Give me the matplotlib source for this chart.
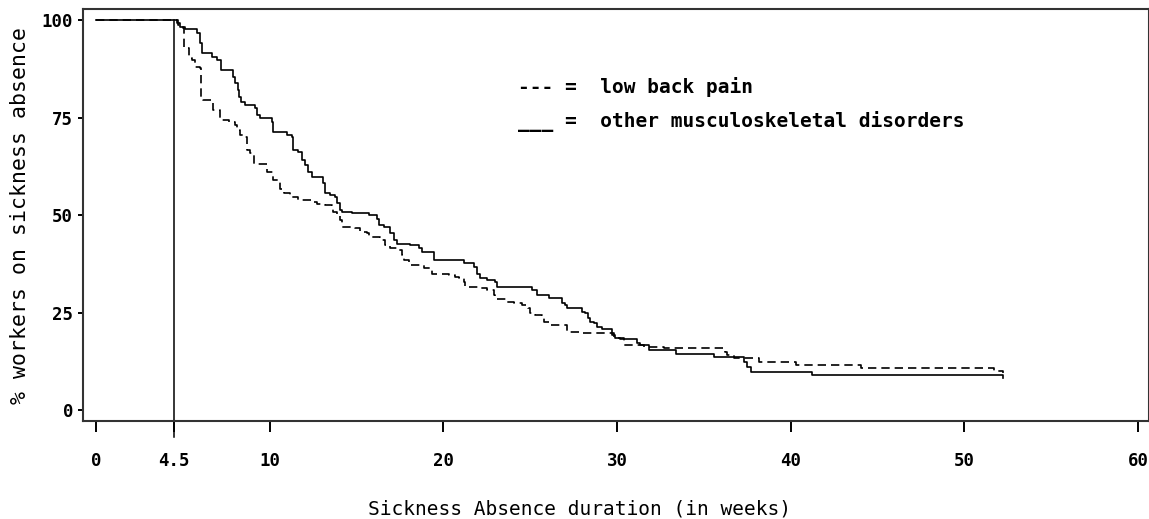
"""Kaplan-Meier style curves: sickness absence duration, low back pain vs other MSD.

Step values read off the published figure.
Output: out.png
"""

import matplotlib.pyplot as plt

# low back pain (dashed): week of step, % still on sickness absence
LBP_WEEKS = [0, 4.75, 5.03, 5.09, 5.38, 5.51, 5.71, 5.99, 6.03, 6.19, 6.71, 7.15,
             7.63, 8.01, 8.11, 8.30, 8.59, 8.69, 8.88, 9.07, 9.84, 10.22, 10.57,
             10.80, 11.18, 11.62, 12.40, 12.72, 13.20, 13.58, 13.64, 13.87, 14.06,
             14.16, 14.93, 15.22, 15.60, 15.70, 16.37, 16.62, 16.95, 17.33, 17.62,
             17.71, 18.00, 18.10, 18.86, 19.35, 20.31, 20.69, 20.88, 21.17, 21.27,
             22.13, 22.52, 22.90, 23.00, 23.67, 24.05, 24.54, 24.88, 25.01, 25.30,
             25.69, 25.78, 26.12, 27.13, 27.90, 29.82, 30.39, 31.55, 32.70, 36.20,
             36.35, 36.73, 38.20, 40.29, 44.03, 51.72, 52.2]
LBP_PCT = [100, 98.7, 97.9, 92.7, 90.2, 89.7, 88.0, 87.6, 80.3, 79.5, 76.9, 74.4,
           73.9, 73.1, 71.8, 70.5, 70.1, 66.7, 65.8, 63.2, 61.1, 59.0, 56.6,
           55.6, 54.7, 53.8, 53.4, 52.8, 52.5, 52.1, 50.9, 50.0, 48.7,
           47.0, 46.6, 45.7, 45.3, 44.4, 43.6, 42.3, 41.5, 41.0, 39.7,
           38.5, 38.0, 37.2, 36.3, 35.0, 34.6, 34.2, 33.8, 32.9, 31.6,
           31.2, 30.8, 29.5, 28.6, 27.8, 27.4, 26.9, 26.1, 24.8, 24.4,
           23.9, 22.6, 21.8, 20.1, 19.7, 18.4, 16.7, 16.2, 16.0, 15.0,
           14.1, 13.4, 12.3, 11.5, 10.7, 10.0, 9.5]

# other musculoskeletal disorders (solid)
MSD_WEEKS = [0, 4.65, 4.84, 5.13, 5.80, 5.99, 6.09, 6.67, 6.96, 7.19, 7.88, 8.01,
             8.15, 8.26, 8.34, 8.59, 9.16, 9.26, 9.45, 10.13, 10.18, 10.99, 11.28,
             11.34, 11.66, 11.85, 12.05, 12.18, 12.43, 13.06, 13.20, 13.49, 13.78,
             13.87, 14.06, 14.16, 14.74, 15.70, 16.18, 16.27, 16.56, 16.95, 17.14,
             17.33, 18.10, 18.58, 18.77, 19.44, 21.17, 21.75, 21.94, 22.13, 22.52,
             23.00, 23.09, 25.11, 25.40, 26.07, 26.84, 27.03, 27.13, 27.99, 28.18,
             28.32, 28.47, 28.66, 28.86, 29.15, 29.72, 29.91, 30.20, 31.16, 31.35,
             31.83, 33.37, 35.58, 37.31, 37.50, 37.69, 41.25, 52.2]
MSD_PCT = [100, 99.1, 98.3, 97.7, 96.6, 94.0, 91.5, 90.6, 89.7, 87.2, 85.5, 83.8,
           82.1, 80.3, 79.1, 78.2, 77.4, 75.6, 74.8, 73.9, 71.4, 70.5, 70.1,
           66.7, 66.2, 64.1, 62.8, 61.1, 59.8, 58.1, 55.6, 55.1, 54.7,
           53.0, 51.3, 50.8, 50.4, 50.0, 49.1, 47.4, 47.0, 45.3, 43.6,
           42.7, 42.3, 41.5, 40.6, 38.5, 37.6, 36.8, 35.0, 33.8, 33.3,
           32.9, 31.6, 30.8, 29.5, 28.8, 27.4, 26.9, 26.1, 25.2, 24.8,
           23.5, 22.6, 22.2, 21.4, 20.7, 19.2, 18.6, 18.1, 17.1, 16.7,
           15.4, 14.5, 13.7, 12.4, 11.1, 9.8, 9.0, 8.2]

X_TICKS = [0, 4.5, 10, 20, 30, 40, 50, 60]
X_TICK_LABELS = ["0", "4.5", "10", "20", "30", "40", "50", "60"]
Y_TICKS = [0, 25, 50, 75, 100]
CUTOFF = 4.5  # weeks; inclusion threshold marked by the vertical line

MONO = "DejaVu Sans Mono"

fig = plt.figure(figsize=(11.49, 5.19), dpi=100)
ax = fig.add_axes([0.0722, 0.1888, 0.9278, 0.7930])

ax.step(LBP_WEEKS, LBP_PCT, where="post", color="black", lw=1.2,
        linestyle=(0, (5, 3)))
ax.step(MSD_WEEKS, MSD_PCT, where="post", color="black", lw=1.2)
# cut-off line, runs on past the frame like the original
ax.plot([CUTOFF, CUTOFF], [100, -6.9], color="black", lw=1.1, clip_on=False)

ax.set_xlim(-0.75, 60.63)
ax.set_ylim(-2.8, 102.7)
ax.set_xticks(X_TICKS)
ax.set_xticklabels(X_TICK_LABELS)
ax.set_yticks(Y_TICKS)
ax.tick_params(axis="x", direction="out", length=8, width=1.4, pad=14)
ax.tick_params(axis="y", direction="out", length=3.6, width=1.4, pad=3.5)
for lab in ax.get_xticklabels() + ax.get_yticklabels():
    lab.set_family(MONO)
    lab.set_weight("bold")
    lab.set_fontsize(12.5)
for sp in ax.spines.values():
    sp.set_linewidth(1.5)
    sp.set_color("#333333")

# hand-made legend, as in the source figure
leg_x = 518 / 1149
fig.text(leg_x, 0.8208, "--- =  low back pain", family=MONO, weight="bold",
         fontsize=14, va="baseline", ha="left")
fig.text(leg_x, 0.7553, "___ =  other musculoskeletal disorders", family=MONO,
         weight="bold", fontsize=14, va="baseline", ha="left")

fig.text(0.504, 0.02, "Sickness Absence duration (in weeks)", family=MONO,
         fontsize=14, ha="center", va="center")
fig.text(0.0174, 0.584, "% workers on sickness absence", family=MONO,
         fontsize=15.5, rotation=90, ha="center", va="center")

fig.savefig("out.png", dpi=100)
